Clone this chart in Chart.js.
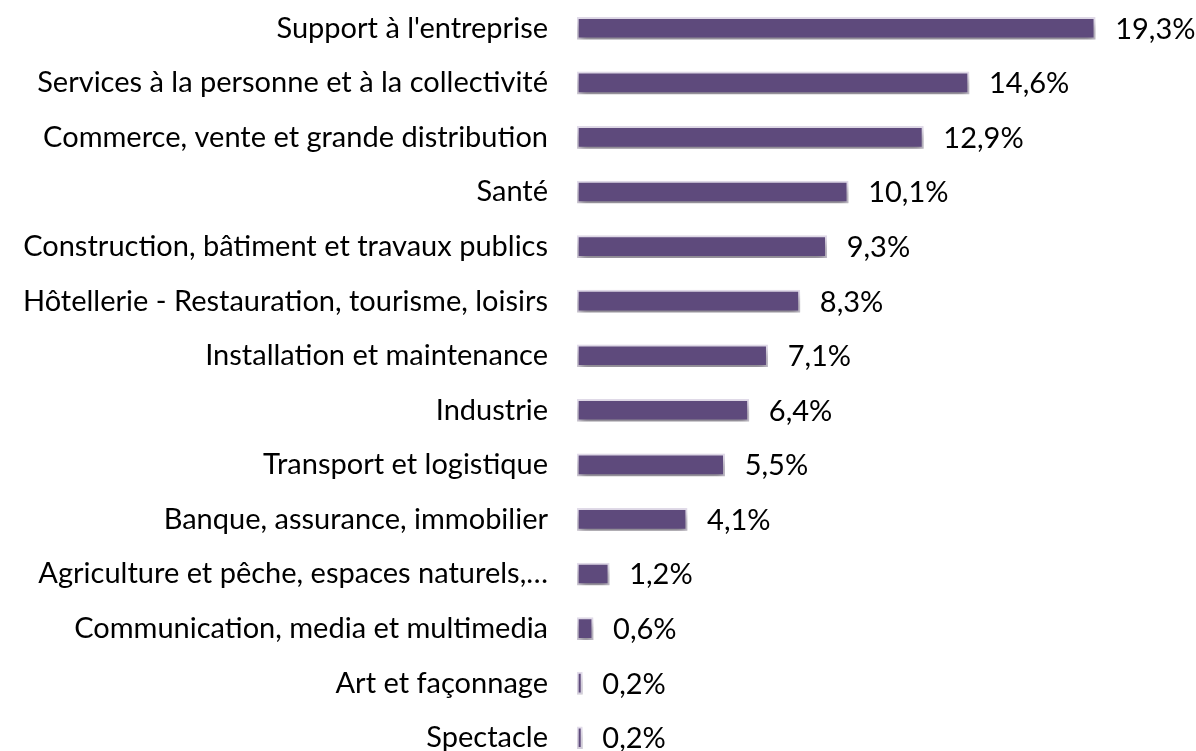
<!DOCTYPE html>
<html>
<head>
<meta charset="utf-8">
<script src="https://cdn.jsdelivr.net/npm/chart.js@4/dist/chart.umd.min.js"></script>
<style>
html,body{margin:0;padding:0;background:#fff;overflow:hidden;}
#wrap{position:relative;width:1196px;height:765px;}
</style>
</head>
<body>
<div id="wrap"><canvas id="c"></canvas></div>
<script>
const categories = [
  "Support à l'entreprise",
  "Services à la personne et à la collectivité",
  "Commerce, vente et grande distribution",
  "Santé",
  "Construction, bâtiment et travaux publics",
  "Hôtellerie - Restauration, tourisme, loisirs",
  "Installation et maintenance",
  "Industrie",
  "Transport et logistique",
  "Banque, assurance, immobilier",
  "Agriculture et pêche, espaces naturels,…",
  "Communication, media et multimedia",
  "Art et façonnage",
  "Spectacle"
];
const values = [19.3, 14.6, 12.9, 10.1, 9.3, 8.3, 7.1, 6.4, 5.5, 4.1, 1.2, 0.6, 0.2, 0.2];
const valueLabels = ["19,3%","14,6%","12,9%","10,1%","9,3%","8,3%","7,1%","6,4%","5,5%","4,1%","1,2%","0,6%","0,2%","0,2%"];

const FONT = "Lato, 'Open Sans', sans-serif";
const FSIZE = 29;

const shadowPlugin = {
  id: 'shadow',
  beforeDatasetDraw(chart) {
    const ctx = chart.ctx;
    ctx.save();
    ctx.shadowColor = 'rgba(0,0,0,0.4)';
    ctx.shadowBlur = 8;
    ctx.shadowOffsetX = 1;
    ctx.shadowOffsetY = 6;
  },
  afterDatasetDraw(chart) {
    chart.ctx.restore();
  }
};

const labelPlugin = {
  id: 'valueLabels',
  afterDatasetsDraw(chart) {
    const ctx = chart.ctx;
    const meta = chart.getDatasetMeta(0);
    ctx.save();
    ctx.font = FSIZE + "px " + FONT;
    ctx.fillStyle = '#000';
    ctx.textAlign = 'left';
    ctx.textBaseline = 'middle';
    meta.data.forEach((bar, i) => {
      ctx.fillText(valueLabels[i], bar.x + 20, bar.y + 1);
    });
    ctx.restore();
  }
};

new Chart(document.getElementById('c'), {
  type: 'bar',
  data: {
    labels: categories,
    datasets: [{
      data: values,
      backgroundColor: '#5E4A7C',
      borderColor: '#E2DCEA',
      borderWidth: 2,
      borderSkipped: false,
      barThickness: 22
    }]
  },
  options: {
    indexAxis: 'y',
    responsive: true,
    maintainAspectRatio: false,
    animation: false,
    layout: { padding: { top: 1, right: 82, bottom: 0, left: 0 } },
    plugins: { legend: { display: false }, tooltip: { enabled: false } },
    scales: {
      x: { display: false, min: 0, max: 20 },
      y: {
        grid: { display: false, drawTicks: false },
        border: { display: false },
        ticks: {
          color: '#000',
          padding: 29,
          font: { family: FONT, size: FSIZE }
        },
        afterFit(scale) {
          scale.width = 577;
          scale.paddingTop = 0;
          scale.paddingBottom = 0;
        }
      }
    }
  },
  plugins: [shadowPlugin, labelPlugin]
});
</script>
</body>
</html>
